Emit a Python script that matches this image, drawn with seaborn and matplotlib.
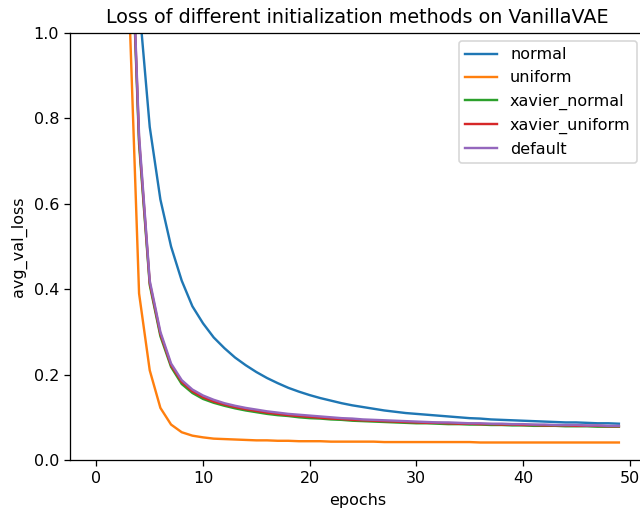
import numpy as np
import pandas as pd
import matplotlib
matplotlib.use("Agg")
import matplotlib.pyplot as plt
import seaborn as sns

epochs = list(range(50))

normal = [60.0, 15.0, 4.5, 1.8, 1.07, 0.78, 0.61, 0.50, 0.42, 0.36,
          0.320, 0.287, 0.262, 0.240, 0.222, 0.206, 0.192, 0.180, 0.169, 0.160,
          0.152, 0.145, 0.139, 0.133, 0.128, 0.124, 0.120, 0.116, 0.113, 0.110,
          0.108, 0.106, 0.104, 0.102, 0.100, 0.098, 0.097, 0.095, 0.094, 0.093,
          0.092, 0.091, 0.090, 0.089, 0.088, 0.088, 0.087, 0.086, 0.086, 0.085]
uniform = [40.0, 9.0, 2.8, 1.12, 0.39, 0.21, 0.122, 0.083, 0.065, 0.057,
           0.053, 0.050, 0.049, 0.048, 0.047, 0.046, 0.046, 0.045, 0.045, 0.044,
           0.044, 0.044, 0.043, 0.043, 0.043, 0.043, 0.043, 0.042, 0.042, 0.042,
           0.042, 0.042, 0.042, 0.042, 0.042, 0.042, 0.041, 0.041, 0.041, 0.041,
           0.041, 0.041, 0.041, 0.041, 0.041, 0.041, 0.041, 0.041, 0.041, 0.041]
xavier_normal = [50.0, 11.0, 3.6, 1.42, 0.74, 0.41, 0.29, 0.218, 0.178, 0.157,
                 0.143, 0.134, 0.127, 0.121, 0.116, 0.112, 0.108, 0.105, 0.103, 0.100,
                 0.098, 0.097, 0.095, 0.094, 0.092, 0.091, 0.090, 0.089, 0.088, 0.087,
                 0.086, 0.086, 0.085, 0.084, 0.084, 0.083, 0.083, 0.082, 0.082, 0.081,
                 0.081, 0.080, 0.080, 0.080, 0.079, 0.079, 0.079, 0.078, 0.078, 0.078]
xavier_uniform = [50.0, 11.0, 3.6, 1.43, 0.75, 0.415, 0.295, 0.222, 0.183, 0.161,
                  0.147, 0.137, 0.130, 0.124, 0.119, 0.115, 0.111, 0.108, 0.105, 0.103,
                  0.101, 0.099, 0.097, 0.096, 0.094, 0.093, 0.092, 0.091, 0.090, 0.089,
                  0.088, 0.087, 0.087, 0.086, 0.085, 0.085, 0.084, 0.084, 0.083, 0.083,
                  0.082, 0.082, 0.081, 0.081, 0.081, 0.080, 0.080, 0.080, 0.079, 0.079]
default = [50.0, 11.0, 3.6, 1.44, 0.76, 0.42, 0.30, 0.226, 0.187, 0.165,
           0.151, 0.141, 0.133, 0.127, 0.122, 0.118, 0.114, 0.111, 0.108, 0.106,
           0.104, 0.102, 0.100, 0.098, 0.097, 0.095, 0.094, 0.093, 0.092, 0.091,
           0.090, 0.089, 0.088, 0.088, 0.087, 0.086, 0.086, 0.085, 0.085, 0.084,
           0.084, 0.083, 0.083, 0.082, 0.082, 0.082, 0.081, 0.081, 0.080, 0.080]

series_names = ["normal", "uniform", "xavier_normal", "xavier_uniform", "default"]
series_values = [normal, uniform, xavier_normal, xavier_uniform, default]

df = pd.concat(
    [pd.DataFrame({"epochs": epochs, "avg_val_loss": v, "method": n})
     for n, v in zip(series_names, series_values)],
    ignore_index=True,
)

DPI = 115
fig = plt.figure(figsize=(640 / DPI, 512 / DPI), dpi=DPI)
ax = fig.add_axes([70.3 / 640, 1 - 460 / 512, (645 - 70.3) / 640, (460 - 33) / 512])
sns.lineplot(data=df, x="epochs", y="avg_val_loss", hue="method",
             hue_order=series_names, palette="tab10", ax=ax, linewidth=1.5)
ax.set_ylim(0, 1.0)
ax.set_xticks([0, 10, 20, 30, 40, 50])
ax.set_yticks([0.0, 0.2, 0.4, 0.6, 0.8, 1.0])
ax.set_title("Loss of different initialization methods on VanillaVAE")
ax.set_xlabel("epochs")
ax.set_ylabel("avg_val_loss")
ax.legend(loc="upper right")
fig.savefig("out.png", dpi=DPI)
